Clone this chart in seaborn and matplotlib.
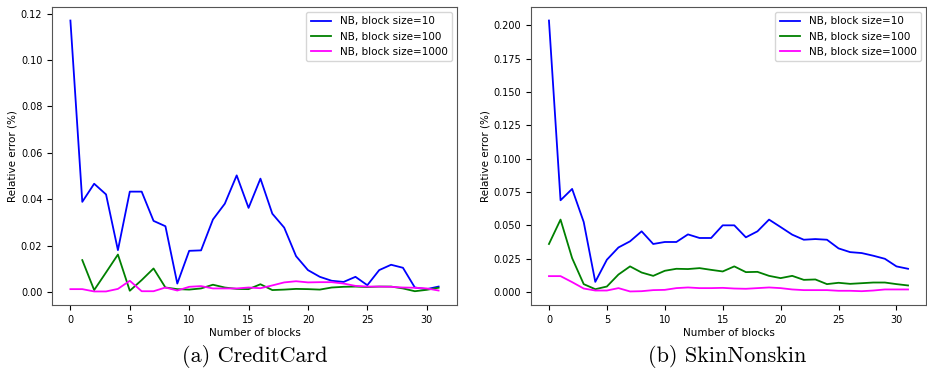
import numpy as np
import matplotlib
matplotlib.use("Agg")
import matplotlib.pyplot as plt
import seaborn as sns

blocks = list(range(32))
labels = ["NB, block size=10", "NB, block size=100", "NB, block size=1000"]
colors = ["#0000ff", "#008000", "#ff00ff"]

# CreditCard
cc_10 = [0.1170, 0.0389, 0.0467, 0.0421, 0.0181, 0.0433, 0.0433, 0.0307, 0.0284, 0.0037,
         0.0178, 0.0180, 0.0313, 0.0381, 0.0503, 0.0363, 0.0489, 0.0338, 0.0278, 0.0155,
         0.0095, 0.0066, 0.0049, 0.0044, 0.0066, 0.0030, 0.0095, 0.0118, 0.0105, 0.0020,
         0.0013, 0.0024]
cc_100 = [np.nan, 0.0138, 0.0009, 0.0085, 0.0162, 0.0006, 0.0052, 0.0102, 0.0020, 0.0013,
          0.0011, 0.0016, 0.0032, 0.0020, 0.0014, 0.0013, 0.0034, 0.0009, 0.0011, 0.0014,
          0.0013, 0.0011, 0.0020, 0.0023, 0.0024, 0.0022, 0.0024, 0.0024, 0.0016, 0.0004,
          0.0010, 0.0019]
cc_1000 = [0.0013, 0.0013, 0.0003, 0.0003, 0.0014, 0.0049, 0.0004, 0.0004, 0.0020, 0.0007,
           0.0023, 0.0026, 0.0016, 0.0016, 0.0016, 0.0020, 0.0017, 0.0029, 0.0042, 0.0047,
           0.0042, 0.0043, 0.0043, 0.0037, 0.0027, 0.0024, 0.0024, 0.0023, 0.0020, 0.0019,
           0.0016, 0.0007]

# SkinNonskin
sk_10 = [0.2035, 0.0687, 0.0772, 0.0524, 0.0075, 0.0241, 0.0333, 0.0379, 0.0454, 0.0359,
         0.0374, 0.0374, 0.0431, 0.0404, 0.0404, 0.0499, 0.0499, 0.0409, 0.0454, 0.0542,
         0.0486, 0.0429, 0.0391, 0.0396, 0.0391, 0.0326, 0.0298, 0.0291, 0.0271, 0.0248,
         0.0191, 0.0173]
sk_100 = [0.0359, 0.0542, 0.0253, 0.0058, 0.0020, 0.0040, 0.0130, 0.0191, 0.0145, 0.0120,
          0.0158, 0.0173, 0.0171, 0.0178, 0.0165, 0.0153, 0.0191, 0.0148, 0.0150, 0.0120,
          0.0103, 0.0120, 0.0090, 0.0093, 0.0058, 0.0068, 0.0060, 0.0065, 0.0070, 0.0070,
          0.0058, 0.0048]
sk_1000 = [0.0118, 0.0118, 0.0073, 0.0025, 0.0010, 0.0010, 0.0028, 0.0003, 0.0005, 0.0013,
           0.0015, 0.0028, 0.0033, 0.0028, 0.0028, 0.0030, 0.0025, 0.0023, 0.0028, 0.0033,
           0.0028, 0.0018, 0.0013, 0.0013, 0.0013, 0.0008, 0.0008, 0.0005, 0.0010, 0.0018,
           0.0018, 0.0018]

captions = ["(a) CreditCard", "(b) SkinNonskin"]

plt.rcParams["font.size"] = 7.5
fig = plt.figure(figsize=(9.28, 3.72), dpi=100)
ax1 = fig.add_axes([52 / 928, 1 - 305 / 372, 405 / 928, 298 / 372])
ax2 = fig.add_axes([531 / 928, 1 - 305 / 372, 395 / 928, 298 / 372])

for ax, series, cap, cx in [(ax1, [cc_10, cc_100, cc_1000], captions[0], 255),
                            (ax2, [sk_10, sk_100, sk_1000], captions[1], 727)]:
    for vals, lab, col in zip(series, labels, colors):
        sns.lineplot(x=blocks, y=vals, ax=ax, color=col, label=lab, linewidth=1.3)
    ax.set_xlabel("Number of blocks", fontsize=7.5, labelpad=2.5)
    ax.set_ylabel("Relative error (%)", fontsize=7.5, labelpad=2.5)
    ax.tick_params(labelsize=7)
    ax.set_xticks([0, 5, 10, 15, 20, 25, 30])
    for sp in ax.spines.values():
        sp.set_color("#555555")
    ax.legend(loc="upper right", fontsize=7.5, frameon=True)
    fig.text(cx / 928, 1 - 356 / 372, cap, ha="center", va="center",
             fontsize=16, family="cmr10")

ax2.set_yticks(np.arange(0, 0.201, 0.025))

plt.savefig("out.png", dpi=100)
